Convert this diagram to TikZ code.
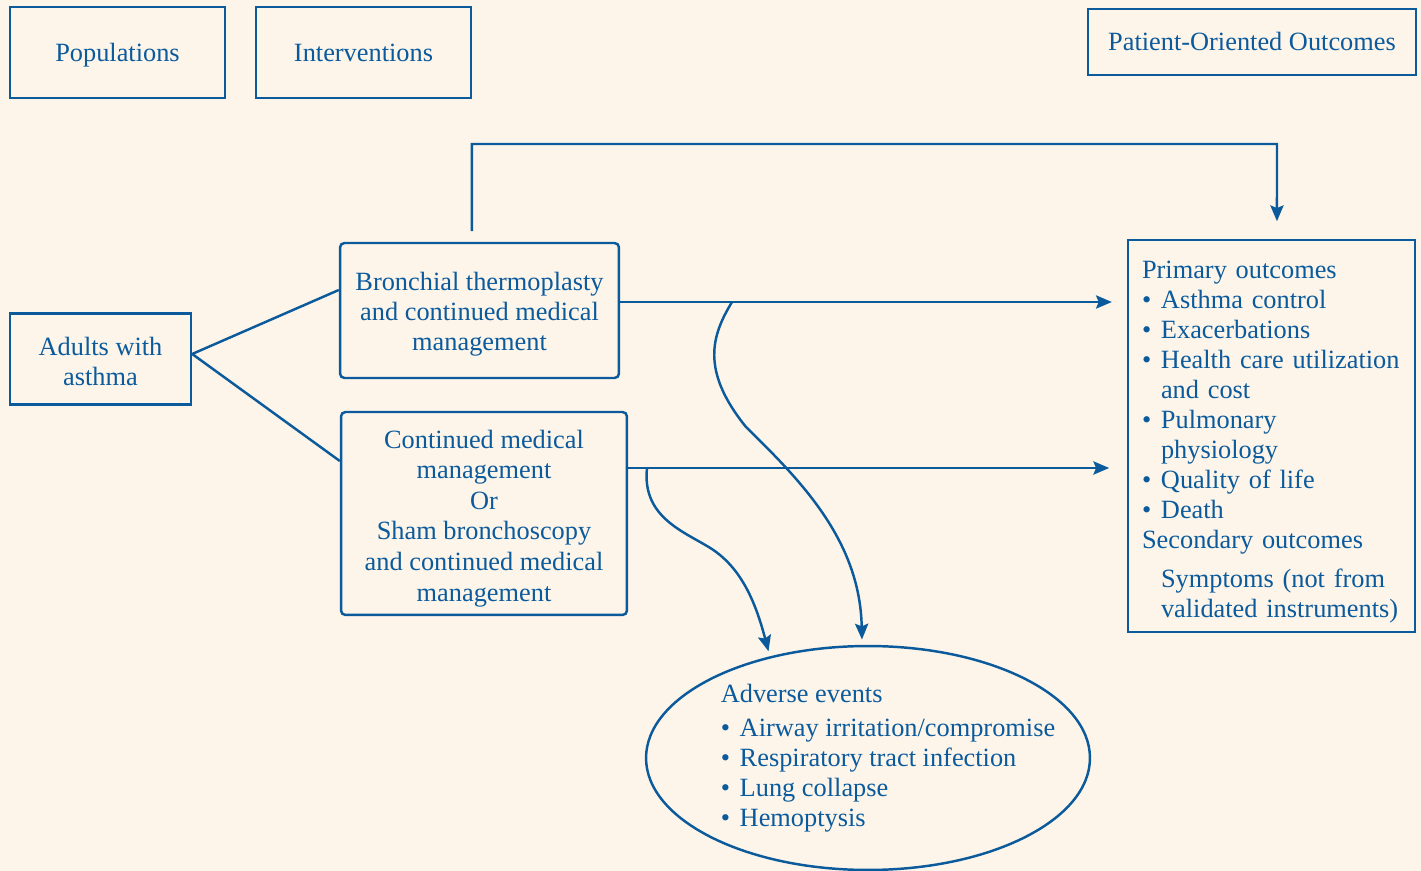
\documentclass[tikz,border=0pt]{standalone}
\usepackage{fontspec}
\setmainfont{Liberation Serif}
\usetikzlibrary{arrows.meta,shapes.geometric}
\definecolor{kqblue}{HTML}{0B5A9C}
\definecolor{kqbg}{HTML}{FDF5EA}
\newcommand{\itm}{\makebox[10.8pt][l]{\textbullet}}
\newcommand{\ind}{\hspace*{10.8pt}}

\begin{document}
\begin{tikzpicture}[x=0.02cm, y=-0.02cm,
		every node/.style={text=kqblue, font=\fontsize{15}{17.1}\selectfont},
		line/.style={draw=kqblue, line width=1.4pt},
		arr/.style={line, -{Stealth[length=9pt, width=7.5pt, inset=1.5pt]}},
		hdbox/.style={line, align=center},
		onerow/.style={text height=10pt, text depth=0pt},
		armbox/.style={line, align=center, rounded corners=2.5pt},
		outbox/.style={line, align=left, text width=5.18cm, inner xsep=0.28cm, inner ysep=0.1cm},
		aebox/.style={line, ellipse, minimum width=8.88cm, minimum height=4.48cm}]
		\path[use as bounding box, fill=kqbg] (0,0) rectangle (1421,871);
		
		% column headings
		\node[hdbox, onerow, minimum width=4.3cm, minimum height=1.82cm] (pop) at (117.5,52.5) {Populations};
		\node[hdbox, onerow, minimum width=4.3cm, minimum height=1.82cm] (int) at (363.5,52.5) {Interventions};
		\node[hdbox, onerow, minimum width=6.56cm, minimum height=1.32cm] (poo) at (1252,42) {Patient-Oriented Outcomes};
		
		% population and arms
		\node[hdbox, minimum width=3.62cm, minimum height=1.82cm] (adults) at (100.5,359) {\rule{0pt}{13pt}Adults with\\asthma};
		\node[armbox, minimum width=5.58cm, minimum height=2.7cm] (bt) at (479.5,310.5) {\rule{0pt}{15pt}Bronchial thermoplasty\\and continued medical\\management};
		\node[armbox, minimum width=5.72cm, minimum height=4.06cm, font=\fontsize{15}{17.4}\selectfont] (cmm) at (484,513.5) {\rule{0pt}{16pt}Continued medical\\management\\Or\\Sham bronchoscopy\\and continued medical\\management};
		
		% outcomes
		\node[outbox, minimum height=7.84cm] (outcomes) at (1271.5,436) {\rule{0pt}{17pt}Primary outcomes\\
			\itm Asthma control\\
			\itm Exacerbations\\
			\itm Health care utilization\\
			\ind and cost\\
			\itm Pulmonary\\
			\ind physiology\\
			\itm Quality of life\\
			\itm Death\\
			Secondary outcomes\\[5pt]
			\ind Symptoms (not from\\
			\ind validated instruments)};
		
		% adverse events
		\node[aebox] (ae) at (868,758) {};
		\node[align=left, inner sep=0pt] (aelist) at (888,758) {Adverse events\\[2.5pt]
			\itm Airway irritation/compromise\\
			\itm Respiratory tract infection\\
			\itm Lung collapse\\
			\itm Hemoptysis};
		
		\coordinate (topbend) at (1277,144);
		\coordinate (split1) at (732,302);
		\coordinate (split2) at (647,468);
		
		\draw[line] (adults.east |- 0,354) -- (bt.west |- 0,290);
		\draw[line] (adults.east |- 0,354) -- (cmm.west |- 0,461);
		\draw[arr, shorten <=6pt, shorten >=10pt] ([xshift=-4.3pt]bt.north) |- (topbend) -- ([xshift=3.1pt]outcomes.north);
		\draw[arr, shorten >=8.5pt] (bt.east |- 0,302) -- (outcomes.west |- 0,302);
		\draw[arr, shorten >=10pt] (cmm.east |- 0,468) -- (outcomes.west |- 0,468);
		\draw[arr, shorten >=3pt] (split1) .. controls (712,335) and (700,370) .. (746,427) .. controls (800,480) and (860,540) .. (ae.93);
		\draw[arr, shorten >=3pt] (split2) .. controls (642,515) and (680,530) .. (707,546) .. controls (740,565) and (755,600) .. (ae.134);
	\end{tikzpicture}
\end{document}
